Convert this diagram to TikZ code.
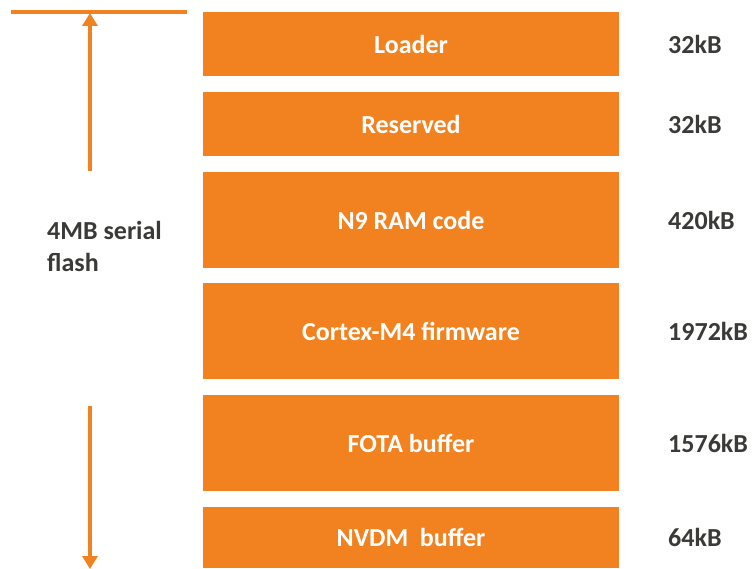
\documentclass[tikz,border=0pt]{standalone}
\usepackage{fontspec}
\setmainfont{Carlito}
\usetikzlibrary{arrows.meta}
\definecolor{flashorange}{HTML}{F28220}
\definecolor{sizegray}{HTML}{3A3A38}

\begin{document}
\begin{tikzpicture}%
	[x=1pt, y=-1pt,
	region/.style={fill=flashorange, inner sep=0pt, minimum width=416pt,
		text=white, font=\fontsize{26}{32}\selectfont\bfseries},
	size/.style={anchor=west, inner sep=0pt, text=sizegray,
		font=\fontsize{26}{32}\selectfont\bfseries},
	span/.style={draw=flashorange, line width=4pt},
	spanarrow/.style={span, -{Triangle[width=15pt,length=13pt]}}]
%
\useasboundingbox (0,0) rectangle (753,569);
%
%% Flash regions
%%
\node[region, minimum height=64pt] (loader)   at (411, 44)  {Loader};
\node[region, minimum height=64pt] (reserved) at (411, 124) {Reserved};
\node[region, minimum height=96pt] (n9)       at (411, 220) {N9 RAM code};
\node[region, minimum height=96pt] (cortex)   at (411, 331) {Cortex-M4 firmware};
\node[region, minimum height=96pt] (fota)     at (411, 443) {FOTA buffer};
\node[region, minimum height=61pt] (nvdm)     at (411, 537.5) {NVDM\ \ buffer};
%%
%% Region sizes
%%
\node[size] (loadersize)   at (668, 44)  {32kB};
\node[size] (reservedsize) at (668, 124) {32kB};
\node[size] (n9size)       at (668, 220) {420kB};
\node[size] (cortexsize)   at (668, 331) {1972kB};
\node[size] (fotasize)     at (668, 443) {1576kB};
\node[size] (nvdmsize)     at (668, 537.5) {64kB};
%%
%% Total flash span
%%
\coordinate (topleft)  at (11, 12);
\coordinate (topright) at (187, 12);
\coordinate (toptip)   at (90, 13);
\coordinate (upstart)  at (90, 171);
\coordinate (downstart) at (90, 406);
\coordinate (downtip)  at (90, 569);
\draw[span] (topleft) -- (topright);
\draw[spanarrow] (upstart) -- (toptip);
\draw[spanarrow] (downstart) -- (downtip);
\node[size, align=left] (flash) at (47, 246) {4MB serial\\flash};
%%
\end{tikzpicture}
\end{document}
